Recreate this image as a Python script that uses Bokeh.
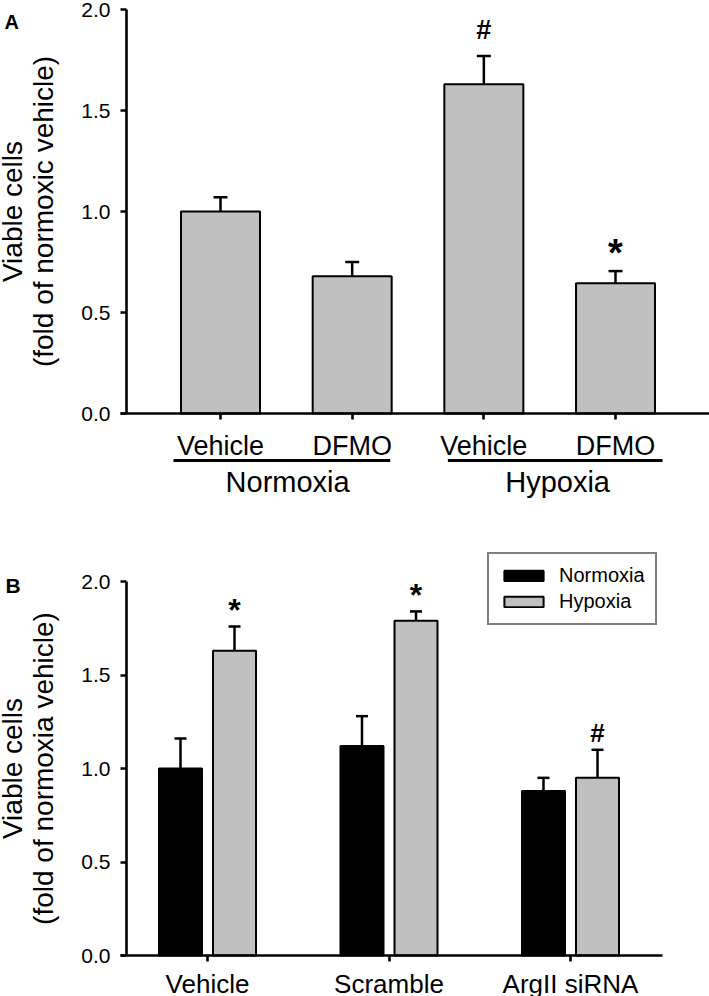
import numpy as np
from bokeh.plotting import figure
from bokeh.models import (ColumnDataSource, Range1d, FixedTicker, PrintfTickFormatter,
                          Whisker, TeeHead, Label, Legend, LegendItem)
from bokeh.layouts import column
from bokeh.embed import file_html
from bokeh.resources import INLINE
from bokeh.core.properties import value

# ---------------- data ----------------
a_treatments = ["Vehicle", "DFMO", "Vehicle", "DFMO"]
a_groups = ["Normoxia", "Hypoxia"]
a_group_members = [[0, 1], [2, 3]]
a_means = [1.00, 0.68, 1.63, 0.645]
a_errs = [0.07, 0.07, 0.14, 0.06]
a_marks = ["", "", "#", "*"]

b_categories = ["Vehicle", "Scramble", "ArgII siRNA"]
b_series = ["Normoxia", "Hypoxia"]
b_normoxia = [1.00, 1.12, 0.88]
b_normoxia_err = [0.16, 0.16, 0.07]
b_hypoxia = [1.63, 1.79, 0.95]
b_hypoxia_err = [0.13, 0.05, 0.15]
b_hypoxia_marks = ["*", "*", "#"]

y_ticks = [0.0, 0.5, 1.0, 1.5, 2.0]

# ---------------- style ----------------
FONT = "Liberation Sans"
GRAY = "#c0c0c0"
AX_W = 2.6
PAGE_W = 709


def make_fig(h, xr, yr):
    p = figure(width=PAGE_W, height=h, x_range=xr, y_range=yr,
               toolbar_location=None, output_backend="svg",
               min_border_left=0, min_border_right=0,
               min_border_top=0, min_border_bottom=0)
    p.grid.visible = False
    p.outline_line_color = None
    p.background_fill_color = "white"
    p.border_fill_color = "white"
    return p


def style_yaxis(p, x_loc, label):
    ax = p.yaxis[0]
    ax.fixed_location = x_loc
    ax.bounds = (0, 2)
    ax.ticker = FixedTicker(ticks=y_ticks)
    ax.formatter = PrintfTickFormatter(format="%.1f")
    ax.minor_tick_line_color = None
    ax.major_tick_in = 0
    ax.major_tick_out = 6
    ax.axis_line_width = AX_W
    ax.major_tick_line_width = AX_W
    ax.axis_line_color = "black"
    ax.major_tick_line_color = "black"
    ax.major_label_text_font = FONT
    ax.major_label_text_font_size = "21px"
    ax.major_label_text_color = "black"
    ax.major_label_standoff = 10
    ax.axis_label = label
    ax.axis_label_text_font = FONT
    ax.axis_label_text_font_size = "28px"
    ax.axis_label_text_font_style = "normal"
    ax.axis_label_text_color = "black"
    ax.axis_label_text_line_height = 1.0
    ax.axis_label_standoff = 19


def style_xaxis(p, bounds, ticks, labels, size, standoff):
    ax = p.xaxis[0]
    ax.fixed_location = 0
    ax.bounds = bounds
    ax.ticker = FixedTicker(ticks=list(ticks))
    ax.major_label_overrides = {int(t): s for t, s in zip(ticks, labels)}
    ax.minor_tick_line_color = None
    ax.major_tick_in = 0
    ax.major_tick_out = 6
    ax.axis_line_width = AX_W
    ax.major_tick_line_width = AX_W
    ax.axis_line_color = "black"
    ax.major_tick_line_color = "black"
    ax.major_label_text_font = FONT
    ax.major_label_text_font_size = size
    ax.major_label_text_color = "black"
    ax.major_label_standoff = standoff


# ================= Panel A =================
A_H = 500
A_PX = 202.0           # px per y unit (0 at 413, 2.0 at 9)
A_SP = 131.67          # px per category, first at x=220
A_X0PX, A_Y0PX = 220, 413
a_xr = Range1d(-A_X0PX / A_SP, (PAGE_W - A_X0PX) / A_SP)
a_yr = Range1d(-(A_H - A_Y0PX) / A_PX, A_Y0PX / A_PX)

pa = make_fig(A_H, a_xr, a_yr)
a_x = list(range(len(a_means)))
style_yaxis(pa, (126 - A_X0PX) / A_SP, "Viable cells\n(fold of normoxic vehicle)")
style_xaxis(pa, ((120 - A_X0PX) / A_SP, a_xr.end), a_x, a_treatments, "27px", 11)

a_mark_off = {"#": 26, "*": 18, "": 0}
a_mark_size = {"#": "27px", "*": "38px", "": "10px"}
src_a = ColumnDataSource(dict(
    x=a_x, mean=a_means,
    upper=[m + e for m, e in zip(a_means, a_errs)],
    mark=a_marks,
    mark_y=[m + e + a_mark_off[k] / A_PX for m, e, k in zip(a_means, a_errs, a_marks)],
    mark_size=[a_mark_size[k] for k in a_marks],
))

pa.add_layout(Whisker(source=src_a, base="x", lower="mean", upper="upper", dimension="height",
                      line_color="black", line_width=2.5, lower_head=None,
                      upper_head=TeeHead(size=14, line_color="black", line_width=2.5)))
pa.vbar(x="x", top="mean", bottom=0, width=0.6, source=src_a,
        fill_color=GRAY, line_color="black", line_width=2)

pa.text(x="x", y="mark_y", text="mark", source=src_a,
        text_align="center", text_baseline="middle", text_font=value(FONT),
        text_font_size="mark_size", text_font_style="bold", text_color="black")

# group underlines and names
g_x0 = [min(a_group_members[0]) - 0.357, min(a_group_members[1]) - 0.273]
g_x1 = [max(a_group_members[0]) + 0.289, max(a_group_members[1]) + 0.357]
g_c = [float(np.mean(a_group_members[0])) + 0.01, float(np.mean(a_group_members[1])) + 0.06]
src_g = ColumnDataSource(dict(x0=g_x0, x1=g_x1, xc=g_c, name=a_groups))
pa.segment(x0="x0", x1="x1", y0=-47 / A_PX, y1=-47 / A_PX, source=src_g,
           line_color="black", line_width=3)
pa.text(x="xc", y=-68 / A_PX, text="name", source=src_g, text_align="center",
        text_baseline="middle", text_font=value(FONT), text_font_size="29px",
        text_color="black")

pa.add_layout(Label(x=(4 - A_X0PX) / A_SP, y=(A_Y0PX - 21) / A_PX, text="A",
                    text_font=FONT, text_font_size="20px", text_font_style="bold",
                    text_baseline="alphabetic", text_align="left", text_color="black"))

# ================= Panel B =================
B_TOP = 500
B_H = 496
B_PX = 187.0          # 0 at page 955, 2.0 at 581
B_SP = 181.5          # first category at x=207
B_X0PX, B_Y0PX = 207, 955 - B_TOP
b_xr = Range1d(-B_X0PX / B_SP, (PAGE_W - B_X0PX) / B_SP)
b_yr = Range1d(-(B_H - B_Y0PX) / B_PX, B_Y0PX / B_PX)

pb = make_fig(B_H, b_xr, b_yr)
b_idx = np.arange(len(b_categories))
style_yaxis(pb, (126 - B_X0PX) / B_SP, "Viable cells\n(fold of normoxia vehicle)")
style_xaxis(pb, ((120 - B_X0PX) / B_SP, (662 - B_X0PX) / B_SP), b_idx, b_categories, "26px", 7)

OFF = 0.1488
BW = 0.237
b_mark_off = {"*": 16, "#": 17}
b_mark_size = {"*": "32px", "#": "26px"}
src_n = ColumnDataSource(dict(
    x=b_idx - OFF, mean=b_normoxia,
    upper=[m + e for m, e in zip(b_normoxia, b_normoxia_err)]))
src_h = ColumnDataSource(dict(
    x=b_idx + OFF, mean=b_hypoxia,
    upper=[m + e for m, e in zip(b_hypoxia, b_hypoxia_err)],
    mark=b_hypoxia_marks,
    mark_y=[m + e + b_mark_off[k] / B_PX for m, e, k in zip(b_hypoxia, b_hypoxia_err, b_hypoxia_marks)],
    mark_size=[b_mark_size[k] for k in b_hypoxia_marks]))

for s in (src_n, src_h):
    pb.add_layout(Whisker(source=s, base="x", lower="mean", upper="upper", dimension="height",
                          line_color="black", line_width=2.5, lower_head=None,
                          upper_head=TeeHead(size=12, line_color="black", line_width=2.5)))
rn = pb.vbar(x="x", top="mean", bottom=0, width=BW, source=src_n,
             fill_color="black", line_color="black", line_width=2)
rh = pb.vbar(x="x", top="mean", bottom=0, width=BW, source=src_h,
             fill_color=GRAY, line_color="black", line_width=2)

pb.text(x="x", y="mark_y", text="mark", source=src_h,
        text_align="center", text_baseline="middle", text_font=value(FONT),
        text_font_size="mark_size", text_font_style="bold", text_color="black")

legend = Legend(items=[LegendItem(label=b_series[0], renderers=[rn]),
                       LegendItem(label=b_series[1], renderers=[rh])],
                location=(487, B_H - (625 - B_TOP)), margin=0, padding=10, spacing=3,
                glyph_width=49, glyph_height=13, label_standoff=11,
                label_text_font=FONT, label_text_font_size="20px",
                label_text_color="black",
                border_line_color="black", border_line_width=2,
                background_fill_color="white", background_fill_alpha=1.0)
pb.add_layout(legend)

pb.add_layout(Label(x=(5 - B_X0PX) / B_SP, y=(955 - 585) / B_PX, text="B",
                    text_font=FONT, text_font_size="21px", text_font_style="bold",
                    text_baseline="alphabetic", text_align="left", text_color="black"))

layout = column(pa, pb, spacing=0)
open("out.html", "w").write(file_html(layout, INLINE))
